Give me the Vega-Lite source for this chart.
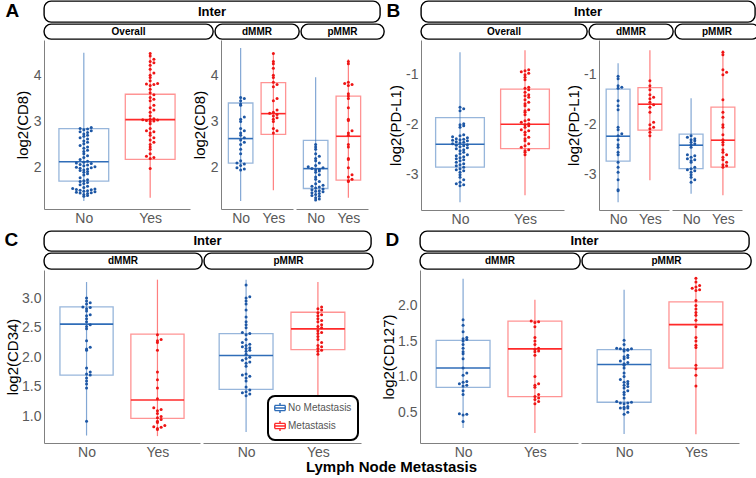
{
"$schema":"https://vega.github.io/schema/vega-lite/v6.json",
"padding":{"left":3,"top":0,"right":0,"bottom":0},
"background":"white",
"config":{
 "font":"Liberation Sans",
 "view":{"stroke":null},
 "axis":{"grid":false,"ticks":false,"domainColor":"#808080","domainWidth":1,"labelColor":"#595959","labelFontSize":14,"labelPadding":3,"titleFontSize":15,"titleFontWeight":"normal","titleColor":"black","titlePadding":3},
 "axisX":{"labelAngle":0,"labelPadding":2},
 "legend":{"strokeColor":"black","strokeWidth":2,"cornerRadius":7,"padding":6,"fillColor":"white","labelFontSize":10,"labelColor":"#555555","symbolSize":110,"symbolStrokeWidth":1.4,"rowPadding":2,"labelOffset":2},
 "title":{"color":"black"}
},
"title":{"text":"Lymph Node Metastasis","orient":"bottom","anchor":"middle","frame":"bounds","fontSize":15,"fontWeight":"bold","offset":1,"dx":10,"baseline":"top"},
"data":{"values":[
{"s":"Aov","g":"No","lo":1.28,"q1":1.71,"md":2.13,"q3":2.845,"hi":4.49},
{"s":"Aov","g":"Yes","lo":1.35,"q1":2.18,"md":3.04,"q3":3.59,"hi":4.5},
{"s":"Ad","g":"No","lo":1.28,"q1":2.1,"md":2.63,"q3":3.4,"hi":4.59},
{"s":"Ad","g":"Yes","lo":1.51,"q1":2.72,"md":3.17,"q3":3.84,"hi":4.49},
{"s":"Ap","g":"No","lo":1.28,"q1":1.55,"md":1.98,"q3":2.59,"hi":3.96},
{"s":"Ap","g":"Yes","lo":1.35,"q1":1.73,"md":2.68,"q3":3.55,"hi":4.35},
{"s":"Bov","g":"No","lo":-3.55,"q1":-2.85,"md":-2.39,"q3":-1.86,"hi":-0.55},
{"s":"Bov","g":"Yes","lo":-3.41,"q1":-2.48,"md":-1.99,"q3":-1.29,"hi":-0.51},
{"s":"Bd","g":"No","lo":-3.55,"q1":-2.73,"md":-2.23,"q3":-1.29,"hi":-0.77},
{"s":"Bd","g":"Yes","lo":-3.11,"q1":-2.11,"md":-1.59,"q3":-1.26,"hi":-0.51},
{"s":"Bp","g":"No","lo":-3.38,"q1":-2.88,"md":-2.41,"q3":-2.19,"hi":-1.47},
{"s":"Bp","g":"Yes","lo":-3.41,"q1":-2.85,"md":-2.31,"q3":-1.65,"hi":-0.51},
{"s":"Cd","g":"No","lo":0.68,"q1":1.7,"md":2.56,"q3":2.85,"hi":3.27},
{"s":"Cd","g":"Yes","lo":0.67,"q1":0.97,"md":1.28,"q3":2.39,"hi":3.31},
{"s":"Cp","g":"No","lo":0.74,"q1":1.46,"md":2.03,"q3":2.4,"hi":3.31},
{"s":"Cp","g":"Yes","lo":1.31,"q1":2.13,"md":2.48,"q3":2.76,"hi":3.27},
{"s":"Dd","g":"No","lo":0.28,"q1":0.85,"md":1.12,"q3":1.51,"hi":2.375},
{"s":"Dd","g":"Yes","lo":0.21,"q1":0.72,"md":1.39,"q3":1.78,"hi":2.08},
{"s":"Dp","g":"No","lo":0.195,"q1":0.64,"md":1.17,"q3":1.38,"hi":2.22},
{"s":"Dp","g":"Yes","lo":0.19,"q1":1.12,"md":1.73,"q3":2.05,"hi":2.385},
{"s":"Aov","g":"No","v":2.87},{"s":"Aov","g":"No","v":2.85},{"s":"Aov","g":"No","v":2.84},{"s":"Aov","g":"No","v":2.82},{"s":"Aov","g":"No","v":2.8},{"s":"Aov","g":"No","v":2.78},{"s":"Aov","g":"No","v":2.76},{"s":"Aov","g":"No","v":2.73},{"s":"Aov","g":"No","v":2.7},{"s":"Aov","g":"No","v":2.68},{"s":"Aov","g":"No","v":2.65},{"s":"Aov","g":"No","v":2.62},{"s":"Aov","g":"No","v":2.58},{"s":"Aov","g":"No","v":2.55},{"s":"Aov","g":"No","v":2.52},{"s":"Aov","g":"No","v":2.48},{"s":"Aov","g":"No","v":2.45},{"s":"Aov","g":"No","v":2.42},{"s":"Aov","g":"No","v":2.38},{"s":"Aov","g":"No","v":2.35},{"s":"Aov","g":"No","v":2.3},{"s":"Aov","g":"No","v":2.26},{"s":"Aov","g":"No","v":2.22},{"s":"Aov","g":"No","v":2.18},{"s":"Aov","g":"No","v":2.14},{"s":"Aov","g":"No","v":2.12},{"s":"Aov","g":"No","v":2.1},{"s":"Aov","g":"No","v":2.09},{"s":"Aov","g":"No","v":2.07},{"s":"Aov","g":"No","v":2.06},{"s":"Aov","g":"No","v":2.04},{"s":"Aov","g":"No","v":2.02},{"s":"Aov","g":"No","v":2.01},{"s":"Aov","g":"No","v":2.0},{"s":"Aov","g":"No","v":1.99},{"s":"Aov","g":"No","v":1.97},{"s":"Aov","g":"No","v":1.95},{"s":"Aov","g":"No","v":1.94},{"s":"Aov","g":"No","v":1.92},{"s":"Aov","g":"No","v":1.9},{"s":"Aov","g":"No","v":1.87},{"s":"Aov","g":"No","v":1.84},{"s":"Aov","g":"No","v":1.78},{"s":"Aov","g":"No","v":1.74},{"s":"Aov","g":"No","v":1.72},{"s":"Aov","g":"No","v":1.7},{"s":"Aov","g":"No","v":1.68},{"s":"Aov","g":"No","v":1.66},{"s":"Aov","g":"No","v":1.63},{"s":"Aov","g":"No","v":1.6},{"s":"Aov","g":"No","v":1.57},{"s":"Aov","g":"No","v":1.55},{"s":"Aov","g":"No","v":1.54},{"s":"Aov","g":"No","v":1.53},{"s":"Aov","g":"No","v":1.52},{"s":"Aov","g":"No","v":1.51},{"s":"Aov","g":"No","v":1.5},{"s":"Aov","g":"No","v":1.49},{"s":"Aov","g":"No","v":1.48},{"s":"Aov","g":"No","v":1.47},{"s":"Aov","g":"No","v":1.46},{"s":"Aov","g":"No","v":1.45},{"s":"Aov","g":"No","v":1.44},{"s":"Aov","g":"No","v":1.42},{"s":"Aov","g":"No","v":1.4},{"s":"Aov","g":"No","v":1.38},
{"s":"Aov","g":"Yes","v":4.47},{"s":"Aov","g":"Yes","v":4.42},{"s":"Aov","g":"Yes","v":4.35},{"s":"Aov","g":"Yes","v":4.3},{"s":"Aov","g":"Yes","v":4.27},{"s":"Aov","g":"Yes","v":4.22},{"s":"Aov","g":"Yes","v":4.13},{"s":"Aov","g":"Yes","v":4.05},{"s":"Aov","g":"Yes","v":4.0},{"s":"Aov","g":"Yes","v":3.95},{"s":"Aov","g":"Yes","v":3.88},{"s":"Aov","g":"Yes","v":3.82},{"s":"Aov","g":"Yes","v":3.81},{"s":"Aov","g":"Yes","v":3.8},{"s":"Aov","g":"Yes","v":3.78},{"s":"Aov","g":"Yes","v":3.7},{"s":"Aov","g":"Yes","v":3.62},{"s":"Aov","g":"Yes","v":3.58},{"s":"Aov","g":"Yes","v":3.52},{"s":"Aov","g":"Yes","v":3.48},{"s":"Aov","g":"Yes","v":3.45},{"s":"Aov","g":"Yes","v":3.35},{"s":"Aov","g":"Yes","v":3.3},{"s":"Aov","g":"Yes","v":3.25},{"s":"Aov","g":"Yes","v":3.2},{"s":"Aov","g":"Yes","v":3.12},{"s":"Aov","g":"Yes","v":3.06},{"s":"Aov","g":"Yes","v":3.05},{"s":"Aov","g":"Yes","v":3.04},{"s":"Aov","g":"Yes","v":3.03},{"s":"Aov","g":"Yes","v":3.02},{"s":"Aov","g":"Yes","v":3.01},{"s":"Aov","g":"Yes","v":3.0},{"s":"Aov","g":"Yes","v":2.95},{"s":"Aov","g":"Yes","v":2.85},{"s":"Aov","g":"Yes","v":2.8},{"s":"Aov","g":"Yes","v":2.78},{"s":"Aov","g":"Yes","v":2.75},{"s":"Aov","g":"Yes","v":2.7},{"s":"Aov","g":"Yes","v":2.65},{"s":"Aov","g":"Yes","v":2.6},{"s":"Aov","g":"Yes","v":2.55},{"s":"Aov","g":"Yes","v":2.5},{"s":"Aov","g":"Yes","v":2.45},{"s":"Aov","g":"Yes","v":2.4},{"s":"Aov","g":"Yes","v":2.3},{"s":"Aov","g":"Yes","v":2.25},{"s":"Aov","g":"Yes","v":2.22},{"s":"Aov","g":"Yes","v":2.2},{"s":"Aov","g":"Yes","v":1.98},
{"s":"Ad","g":"No","v":3.52},{"s":"Ad","g":"No","v":3.5},{"s":"Ad","g":"No","v":3.45},{"s":"Ad","g":"No","v":3.38},{"s":"Ad","g":"No","v":3.35},{"s":"Ad","g":"No","v":3.1},{"s":"Ad","g":"No","v":3.05},{"s":"Ad","g":"No","v":3.0},{"s":"Ad","g":"No","v":2.85},{"s":"Ad","g":"No","v":2.8},{"s":"Ad","g":"No","v":2.75},{"s":"Ad","g":"No","v":2.7},{"s":"Ad","g":"No","v":2.65},{"s":"Ad","g":"No","v":2.6},{"s":"Ad","g":"No","v":2.55},{"s":"Ad","g":"No","v":2.5},{"s":"Ad","g":"No","v":2.4},{"s":"Ad","g":"No","v":2.3},{"s":"Ad","g":"No","v":2.15},{"s":"Ad","g":"No","v":2.1},{"s":"Ad","g":"No","v":2.08},{"s":"Ad","g":"No","v":2.05},{"s":"Ad","g":"No","v":2.0},{"s":"Ad","g":"No","v":1.97},{"s":"Ad","g":"No","v":1.95},
{"s":"Ad","g":"Yes","v":4.47},{"s":"Ad","g":"Yes","v":4.3},{"s":"Ad","g":"Yes","v":4.25},{"s":"Ad","g":"Yes","v":4.15},{"s":"Ad","g":"Yes","v":4.0},{"s":"Ad","g":"Yes","v":3.95},{"s":"Ad","g":"Yes","v":3.85},{"s":"Ad","g":"Yes","v":3.8},{"s":"Ad","g":"Yes","v":3.75},{"s":"Ad","g":"Yes","v":3.5},{"s":"Ad","g":"Yes","v":3.45},{"s":"Ad","g":"Yes","v":3.25},{"s":"Ad","g":"Yes","v":3.2},{"s":"Ad","g":"Yes","v":3.18},{"s":"Ad","g":"Yes","v":3.15},{"s":"Ad","g":"Yes","v":3.12},{"s":"Ad","g":"Yes","v":3.08},{"s":"Ad","g":"Yes","v":3.05},{"s":"Ad","g":"Yes","v":3.0},{"s":"Ad","g":"Yes","v":2.85},{"s":"Ad","g":"Yes","v":2.8},{"s":"Ad","g":"Yes","v":2.75},
{"s":"Ap","g":"No","v":2.5},{"s":"Ap","g":"No","v":2.45},{"s":"Ap","g":"No","v":2.4},{"s":"Ap","g":"No","v":2.3},{"s":"Ap","g":"No","v":2.25},{"s":"Ap","g":"No","v":2.2},{"s":"Ap","g":"No","v":2.15},{"s":"Ap","g":"No","v":2.1},{"s":"Ap","g":"No","v":2.05},{"s":"Ap","g":"No","v":2.02},{"s":"Ap","g":"No","v":2.0},{"s":"Ap","g":"No","v":1.98},{"s":"Ap","g":"No","v":1.96},{"s":"Ap","g":"No","v":1.95},{"s":"Ap","g":"No","v":1.93},{"s":"Ap","g":"No","v":1.9},{"s":"Ap","g":"No","v":1.85},{"s":"Ap","g":"No","v":1.8},{"s":"Ap","g":"No","v":1.75},{"s":"Ap","g":"No","v":1.7},{"s":"Ap","g":"No","v":1.65},{"s":"Ap","g":"No","v":1.62},{"s":"Ap","g":"No","v":1.6},{"s":"Ap","g":"No","v":1.58},{"s":"Ap","g":"No","v":1.56},{"s":"Ap","g":"No","v":1.54},{"s":"Ap","g":"No","v":1.52},{"s":"Ap","g":"No","v":1.5},{"s":"Ap","g":"No","v":1.49},{"s":"Ap","g":"No","v":1.48},{"s":"Ap","g":"No","v":1.46},{"s":"Ap","g":"No","v":1.44},{"s":"Ap","g":"No","v":1.42},{"s":"Ap","g":"No","v":1.4},{"s":"Ap","g":"No","v":1.38},{"s":"Ap","g":"No","v":1.35},{"s":"Ap","g":"No","v":1.32},{"s":"Ap","g":"No","v":1.3},
{"s":"Ap","g":"Yes","v":4.3},{"s":"Ap","g":"Yes","v":4.25},{"s":"Ap","g":"Yes","v":3.85},{"s":"Ap","g":"Yes","v":3.82},{"s":"Ap","g":"Yes","v":3.8},{"s":"Ap","g":"Yes","v":3.78},{"s":"Ap","g":"Yes","v":3.6},{"s":"Ap","g":"Yes","v":3.55},{"s":"Ap","g":"Yes","v":3.5},{"s":"Ap","g":"Yes","v":3.3},{"s":"Ap","g":"Yes","v":3.05},{"s":"Ap","g":"Yes","v":3.02},{"s":"Ap","g":"Yes","v":2.8},{"s":"Ap","g":"Yes","v":2.75},{"s":"Ap","g":"Yes","v":2.7},{"s":"Ap","g":"Yes","v":2.5},{"s":"Ap","g":"Yes","v":2.45},{"s":"Ap","g":"Yes","v":2.2},{"s":"Ap","g":"Yes","v":2.18},{"s":"Ap","g":"Yes","v":2.0},{"s":"Ap","g":"Yes","v":1.85},{"s":"Ap","g":"Yes","v":1.8},{"s":"Ap","g":"Yes","v":1.75},{"s":"Ap","g":"Yes","v":1.72},{"s":"Ap","g":"Yes","v":1.7},
{"s":"Bov","g":"No","v":-1.65},{"s":"Bov","g":"No","v":-1.68},{"s":"Bov","g":"No","v":-1.72},{"s":"Bov","g":"No","v":-1.98},{"s":"Bov","g":"No","v":-2.0},{"s":"Bov","g":"No","v":-2.02},{"s":"Bov","g":"No","v":-2.05},{"s":"Bov","g":"No","v":-2.2},{"s":"Bov","g":"No","v":-2.22},{"s":"Bov","g":"No","v":-2.24},{"s":"Bov","g":"No","v":-2.26},{"s":"Bov","g":"No","v":-2.28},{"s":"Bov","g":"No","v":-2.29},{"s":"Bov","g":"No","v":-2.3},{"s":"Bov","g":"No","v":-2.31},{"s":"Bov","g":"No","v":-2.32},{"s":"Bov","g":"No","v":-2.34},{"s":"Bov","g":"No","v":-2.35},{"s":"Bov","g":"No","v":-2.36},{"s":"Bov","g":"No","v":-2.38},{"s":"Bov","g":"No","v":-2.4},{"s":"Bov","g":"No","v":-2.41},{"s":"Bov","g":"No","v":-2.42},{"s":"Bov","g":"No","v":-2.44},{"s":"Bov","g":"No","v":-2.46},{"s":"Bov","g":"No","v":-2.48},{"s":"Bov","g":"No","v":-2.5},{"s":"Bov","g":"No","v":-2.52},{"s":"Bov","g":"No","v":-2.55},{"s":"Bov","g":"No","v":-2.58},{"s":"Bov","g":"No","v":-2.6},{"s":"Bov","g":"No","v":-2.62},{"s":"Bov","g":"No","v":-2.64},{"s":"Bov","g":"No","v":-2.66},{"s":"Bov","g":"No","v":-2.68},{"s":"Bov","g":"No","v":-2.7},{"s":"Bov","g":"No","v":-2.72},{"s":"Bov","g":"No","v":-2.75},{"s":"Bov","g":"No","v":-2.78},{"s":"Bov","g":"No","v":-2.8},{"s":"Bov","g":"No","v":-2.82},{"s":"Bov","g":"No","v":-2.85},{"s":"Bov","g":"No","v":-2.88},{"s":"Bov","g":"No","v":-2.9},{"s":"Bov","g":"No","v":-2.92},{"s":"Bov","g":"No","v":-2.95},{"s":"Bov","g":"No","v":-3.0},{"s":"Bov","g":"No","v":-3.05},{"s":"Bov","g":"No","v":-3.1},{"s":"Bov","g":"No","v":-3.15},{"s":"Bov","g":"No","v":-3.18},{"s":"Bov","g":"No","v":-3.2},{"s":"Bov","g":"No","v":-3.22},
{"s":"Bov","g":"Yes","v":-0.9},{"s":"Bov","g":"Yes","v":-0.92},{"s":"Bov","g":"Yes","v":-0.94},{"s":"Bov","g":"Yes","v":-0.97},{"s":"Bov","g":"Yes","v":-1.0},{"s":"Bov","g":"Yes","v":-1.05},{"s":"Bov","g":"Yes","v":-1.1},{"s":"Bov","g":"Yes","v":-1.25},{"s":"Bov","g":"Yes","v":-1.27},{"s":"Bov","g":"Yes","v":-1.3},{"s":"Bov","g":"Yes","v":-1.35},{"s":"Bov","g":"Yes","v":-1.4},{"s":"Bov","g":"Yes","v":-1.42},{"s":"Bov","g":"Yes","v":-1.45},{"s":"Bov","g":"Yes","v":-1.5},{"s":"Bov","g":"Yes","v":-1.55},{"s":"Bov","g":"Yes","v":-1.58},{"s":"Bov","g":"Yes","v":-1.62},{"s":"Bov","g":"Yes","v":-1.7},{"s":"Bov","g":"Yes","v":-1.72},{"s":"Bov","g":"Yes","v":-1.75},{"s":"Bov","g":"Yes","v":-1.8},{"s":"Bov","g":"Yes","v":-1.9},{"s":"Bov","g":"Yes","v":-1.92},{"s":"Bov","g":"Yes","v":-1.95},{"s":"Bov","g":"Yes","v":-1.98},{"s":"Bov","g":"Yes","v":-2.0},{"s":"Bov","g":"Yes","v":-2.02},{"s":"Bov","g":"Yes","v":-2.05},{"s":"Bov","g":"Yes","v":-2.1},{"s":"Bov","g":"Yes","v":-2.12},{"s":"Bov","g":"Yes","v":-2.15},{"s":"Bov","g":"Yes","v":-2.2},{"s":"Bov","g":"Yes","v":-2.25},{"s":"Bov","g":"Yes","v":-2.28},{"s":"Bov","g":"Yes","v":-2.32},{"s":"Bov","g":"Yes","v":-2.38},{"s":"Bov","g":"Yes","v":-2.42},{"s":"Bov","g":"Yes","v":-2.45},{"s":"Bov","g":"Yes","v":-2.5},{"s":"Bov","g":"Yes","v":-2.52},{"s":"Bov","g":"Yes","v":-2.55},{"s":"Bov","g":"Yes","v":-2.6},
{"s":"Bd","g":"No","v":-1.03},{"s":"Bd","g":"No","v":-1.08},{"s":"Bd","g":"No","v":-1.22},{"s":"Bd","g":"No","v":-1.25},{"s":"Bd","g":"No","v":-1.27},{"s":"Bd","g":"No","v":-1.52},{"s":"Bd","g":"No","v":-1.62},{"s":"Bd","g":"No","v":-1.7},{"s":"Bd","g":"No","v":-2.05},{"s":"Bd","g":"No","v":-2.1},{"s":"Bd","g":"No","v":-2.18},{"s":"Bd","g":"No","v":-2.22},{"s":"Bd","g":"No","v":-2.3},{"s":"Bd","g":"No","v":-2.4},{"s":"Bd","g":"No","v":-2.45},{"s":"Bd","g":"No","v":-2.55},{"s":"Bd","g":"No","v":-2.6},{"s":"Bd","g":"No","v":-2.75},{"s":"Bd","g":"No","v":-2.85},{"s":"Bd","g":"No","v":-2.95},{"s":"Bd","g":"No","v":-3.1},{"s":"Bd","g":"No","v":-3.3},{"s":"Bd","g":"No","v":-3.32},
{"s":"Bd","g":"Yes","v":-1.12},{"s":"Bd","g":"Yes","v":-1.22},{"s":"Bd","g":"Yes","v":-1.3},{"s":"Bd","g":"Yes","v":-1.4},{"s":"Bd","g":"Yes","v":-1.45},{"s":"Bd","g":"Yes","v":-1.48},{"s":"Bd","g":"Yes","v":-1.55},{"s":"Bd","g":"Yes","v":-1.6},{"s":"Bd","g":"Yes","v":-1.65},{"s":"Bd","g":"Yes","v":-1.75},{"s":"Bd","g":"Yes","v":-1.95},{"s":"Bd","g":"Yes","v":-2.0},{"s":"Bd","g":"Yes","v":-2.05},{"s":"Bd","g":"Yes","v":-2.08},{"s":"Bd","g":"Yes","v":-2.15},{"s":"Bd","g":"Yes","v":-2.22},
{"s":"Bp","g":"No","v":-2.22},{"s":"Bp","g":"No","v":-2.25},{"s":"Bp","g":"No","v":-2.28},{"s":"Bp","g":"No","v":-2.3},{"s":"Bp","g":"No","v":-2.32},{"s":"Bp","g":"No","v":-2.35},{"s":"Bp","g":"No","v":-2.38},{"s":"Bp","g":"No","v":-2.4},{"s":"Bp","g":"No","v":-2.45},{"s":"Bp","g":"No","v":-2.6},{"s":"Bp","g":"No","v":-2.62},{"s":"Bp","g":"No","v":-2.65},{"s":"Bp","g":"No","v":-2.68},{"s":"Bp","g":"No","v":-2.7},{"s":"Bp","g":"No","v":-2.72},{"s":"Bp","g":"No","v":-2.75},{"s":"Bp","g":"No","v":-2.85},{"s":"Bp","g":"No","v":-2.88},{"s":"Bp","g":"No","v":-2.9},{"s":"Bp","g":"No","v":-2.92},{"s":"Bp","g":"No","v":-2.95},{"s":"Bp","g":"No","v":-3.0},{"s":"Bp","g":"No","v":-3.05},{"s":"Bp","g":"No","v":-3.1},{"s":"Bp","g":"No","v":-3.15},
{"s":"Bp","g":"Yes","v":-0.55},{"s":"Bp","g":"Yes","v":-0.6},{"s":"Bp","g":"Yes","v":-0.9},{"s":"Bp","g":"Yes","v":-0.95},{"s":"Bp","g":"Yes","v":-1.0},{"s":"Bp","g":"Yes","v":-1.5},{"s":"Bp","g":"Yes","v":-1.75},{"s":"Bp","g":"Yes","v":-1.85},{"s":"Bp","g":"Yes","v":-2.0},{"s":"Bp","g":"Yes","v":-2.05},{"s":"Bp","g":"Yes","v":-2.2},{"s":"Bp","g":"Yes","v":-2.3},{"s":"Bp","g":"Yes","v":-2.35},{"s":"Bp","g":"Yes","v":-2.4},{"s":"Bp","g":"Yes","v":-2.5},{"s":"Bp","g":"Yes","v":-2.55},{"s":"Bp","g":"Yes","v":-2.6},{"s":"Bp","g":"Yes","v":-2.65},{"s":"Bp","g":"Yes","v":-2.7},{"s":"Bp","g":"Yes","v":-2.75},{"s":"Bp","g":"Yes","v":-2.8},{"s":"Bp","g":"Yes","v":-2.82},{"s":"Bp","g":"Yes","v":-2.85},
{"s":"Cd","g":"No","v":3.0},{"s":"Cd","g":"No","v":2.95},{"s":"Cd","g":"No","v":2.92},{"s":"Cd","g":"No","v":2.9},{"s":"Cd","g":"No","v":2.85},{"s":"Cd","g":"No","v":2.84},{"s":"Cd","g":"No","v":2.82},{"s":"Cd","g":"No","v":2.78},{"s":"Cd","g":"No","v":2.72},{"s":"Cd","g":"No","v":2.7},{"s":"Cd","g":"No","v":2.65},{"s":"Cd","g":"No","v":2.6},{"s":"Cd","g":"No","v":2.55},{"s":"Cd","g":"No","v":2.52},{"s":"Cd","g":"No","v":2.48},{"s":"Cd","g":"No","v":2.28},{"s":"Cd","g":"No","v":2.17},{"s":"Cd","g":"No","v":2.14},{"s":"Cd","g":"No","v":2.12},{"s":"Cd","g":"No","v":1.82},{"s":"Cd","g":"No","v":1.75},{"s":"Cd","g":"No","v":1.72},{"s":"Cd","g":"No","v":1.7},{"s":"Cd","g":"No","v":1.65},{"s":"Cd","g":"No","v":1.6},{"s":"Cd","g":"No","v":1.55},{"s":"Cd","g":"No","v":1.48},{"s":"Cd","g":"No","v":0.92},
{"s":"Cd","g":"Yes","v":2.38},{"s":"Cd","g":"Yes","v":2.3},{"s":"Cd","g":"Yes","v":2.28},{"s":"Cd","g":"Yes","v":2.25},{"s":"Cd","g":"Yes","v":2.12},{"s":"Cd","g":"Yes","v":1.75},{"s":"Cd","g":"Yes","v":1.62},{"s":"Cd","g":"Yes","v":1.48},{"s":"Cd","g":"Yes","v":1.3},{"s":"Cd","g":"Yes","v":1.15},{"s":"Cd","g":"Yes","v":1.12},{"s":"Cd","g":"Yes","v":1.1},{"s":"Cd","g":"Yes","v":1.05},{"s":"Cd","g":"Yes","v":1.0},{"s":"Cd","g":"Yes","v":0.98},{"s":"Cd","g":"Yes","v":0.95},{"s":"Cd","g":"Yes","v":0.92},{"s":"Cd","g":"Yes","v":0.9},{"s":"Cd","g":"Yes","v":0.85},{"s":"Cd","g":"Yes","v":0.83},{"s":"Cd","g":"Yes","v":0.82},{"s":"Cd","g":"Yes","v":0.8},{"s":"Cd","g":"Yes","v":0.78},
{"s":"Cp","g":"No","v":3.22},{"s":"Cp","g":"No","v":3.02},{"s":"Cp","g":"No","v":3.0},{"s":"Cp","g":"No","v":2.95},{"s":"Cp","g":"No","v":2.9},{"s":"Cp","g":"No","v":2.8},{"s":"Cp","g":"No","v":2.68},{"s":"Cp","g":"No","v":2.6},{"s":"Cp","g":"No","v":2.55},{"s":"Cp","g":"No","v":2.5},{"s":"Cp","g":"No","v":2.42},{"s":"Cp","g":"No","v":2.4},{"s":"Cp","g":"No","v":2.38},{"s":"Cp","g":"No","v":2.3},{"s":"Cp","g":"No","v":2.25},{"s":"Cp","g":"No","v":2.22},{"s":"Cp","g":"No","v":2.2},{"s":"Cp","g":"No","v":2.18},{"s":"Cp","g":"No","v":2.16},{"s":"Cp","g":"No","v":2.15},{"s":"Cp","g":"No","v":2.12},{"s":"Cp","g":"No","v":2.1},{"s":"Cp","g":"No","v":2.05},{"s":"Cp","g":"No","v":2.0},{"s":"Cp","g":"No","v":1.98},{"s":"Cp","g":"No","v":1.95},{"s":"Cp","g":"No","v":1.92},{"s":"Cp","g":"No","v":1.9},{"s":"Cp","g":"No","v":1.85},{"s":"Cp","g":"No","v":1.72},{"s":"Cp","g":"No","v":1.7},{"s":"Cp","g":"No","v":1.68},{"s":"Cp","g":"No","v":1.65},{"s":"Cp","g":"No","v":1.6},{"s":"Cp","g":"No","v":1.5},{"s":"Cp","g":"No","v":1.45},{"s":"Cp","g":"No","v":1.42},{"s":"Cp","g":"No","v":1.4},{"s":"Cp","g":"No","v":1.38},{"s":"Cp","g":"No","v":1.35},
{"s":"Cp","g":"Yes","v":2.85},{"s":"Cp","g":"Yes","v":2.82},{"s":"Cp","g":"Yes","v":2.8},{"s":"Cp","g":"Yes","v":2.75},{"s":"Cp","g":"Yes","v":2.72},{"s":"Cp","g":"Yes","v":2.7},{"s":"Cp","g":"Yes","v":2.65},{"s":"Cp","g":"Yes","v":2.62},{"s":"Cp","g":"Yes","v":2.6},{"s":"Cp","g":"Yes","v":2.55},{"s":"Cp","g":"Yes","v":2.52},{"s":"Cp","g":"Yes","v":2.5},{"s":"Cp","g":"Yes","v":2.45},{"s":"Cp","g":"Yes","v":2.42},{"s":"Cp","g":"Yes","v":2.4},{"s":"Cp","g":"Yes","v":2.35},{"s":"Cp","g":"Yes","v":2.3},{"s":"Cp","g":"Yes","v":2.25},{"s":"Cp","g":"Yes","v":2.2},{"s":"Cp","g":"Yes","v":2.18},{"s":"Cp","g":"Yes","v":2.15},{"s":"Cp","g":"Yes","v":2.12},{"s":"Cp","g":"Yes","v":2.1},{"s":"Cp","g":"Yes","v":2.05},
{"s":"Dd","g":"No","v":1.8},{"s":"Dd","g":"No","v":1.72},{"s":"Dd","g":"No","v":1.63},{"s":"Dd","g":"No","v":1.55},{"s":"Dd","g":"No","v":1.53},{"s":"Dd","g":"No","v":1.52},{"s":"Dd","g":"No","v":1.5},{"s":"Dd","g":"No","v":1.45},{"s":"Dd","g":"No","v":1.4},{"s":"Dd","g":"No","v":1.35},{"s":"Dd","g":"No","v":1.32},{"s":"Dd","g":"No","v":1.25},{"s":"Dd","g":"No","v":1.12},{"s":"Dd","g":"No","v":1.05},{"s":"Dd","g":"No","v":1.02},{"s":"Dd","g":"No","v":0.93},{"s":"Dd","g":"No","v":0.92},{"s":"Dd","g":"No","v":0.9},{"s":"Dd","g":"No","v":0.88},{"s":"Dd","g":"No","v":0.87},{"s":"Dd","g":"No","v":0.8},{"s":"Dd","g":"No","v":0.75},{"s":"Dd","g":"No","v":0.48},{"s":"Dd","g":"No","v":0.47},{"s":"Dd","g":"No","v":0.46},{"s":"Dd","g":"No","v":0.37},
{"s":"Dd","g":"Yes","v":1.78},{"s":"Dd","g":"Yes","v":1.77},{"s":"Dd","g":"Yes","v":1.76},{"s":"Dd","g":"Yes","v":1.7},{"s":"Dd","g":"Yes","v":1.55},{"s":"Dd","g":"Yes","v":1.5},{"s":"Dd","g":"Yes","v":1.45},{"s":"Dd","g":"Yes","v":1.4},{"s":"Dd","g":"Yes","v":1.38},{"s":"Dd","g":"Yes","v":1.36},{"s":"Dd","g":"Yes","v":1.35},{"s":"Dd","g":"Yes","v":1.3},{"s":"Dd","g":"Yes","v":1.0},{"s":"Dd","g":"Yes","v":0.9},{"s":"Dd","g":"Yes","v":0.88},{"s":"Dd","g":"Yes","v":0.85},{"s":"Dd","g":"Yes","v":0.75},{"s":"Dd","g":"Yes","v":0.72},{"s":"Dd","g":"Yes","v":0.7},{"s":"Dd","g":"Yes","v":0.68},{"s":"Dd","g":"Yes","v":0.65},{"s":"Dd","g":"Yes","v":0.62},
{"s":"Dp","g":"No","v":1.51},{"s":"Dp","g":"No","v":1.45},{"s":"Dp","g":"No","v":1.4},{"s":"Dp","g":"No","v":1.39},{"s":"Dp","g":"No","v":1.39},{"s":"Dp","g":"No","v":1.38},{"s":"Dp","g":"No","v":1.38},{"s":"Dp","g":"No","v":1.37},{"s":"Dp","g":"No","v":1.36},{"s":"Dp","g":"No","v":1.3},{"s":"Dp","g":"No","v":1.28},{"s":"Dp","g":"No","v":1.27},{"s":"Dp","g":"No","v":1.25},{"s":"Dp","g":"No","v":1.22},{"s":"Dp","g":"No","v":1.2},{"s":"Dp","g":"No","v":1.18},{"s":"Dp","g":"No","v":1.16},{"s":"Dp","g":"No","v":1.12},{"s":"Dp","g":"No","v":1.05},{"s":"Dp","g":"No","v":1.0},{"s":"Dp","g":"No","v":0.96},{"s":"Dp","g":"No","v":0.93},{"s":"Dp","g":"No","v":0.92},{"s":"Dp","g":"No","v":0.9},{"s":"Dp","g":"No","v":0.88},{"s":"Dp","g":"No","v":0.86},{"s":"Dp","g":"No","v":0.84},{"s":"Dp","g":"No","v":0.8},{"s":"Dp","g":"No","v":0.78},{"s":"Dp","g":"No","v":0.75},{"s":"Dp","g":"No","v":0.7},{"s":"Dp","g":"No","v":0.65},{"s":"Dp","g":"No","v":0.64},{"s":"Dp","g":"No","v":0.63},{"s":"Dp","g":"No","v":0.63},{"s":"Dp","g":"No","v":0.62},{"s":"Dp","g":"No","v":0.58},{"s":"Dp","g":"No","v":0.57},{"s":"Dp","g":"No","v":0.56},{"s":"Dp","g":"No","v":0.56},{"s":"Dp","g":"No","v":0.55},{"s":"Dp","g":"No","v":0.5},{"s":"Dp","g":"No","v":0.47},
{"s":"Dp","g":"Yes","v":2.38},{"s":"Dp","g":"Yes","v":2.33},{"s":"Dp","g":"Yes","v":2.28},{"s":"Dp","g":"Yes","v":2.26},{"s":"Dp","g":"Yes","v":2.24},{"s":"Dp","g":"Yes","v":2.22},{"s":"Dp","g":"Yes","v":2.21},{"s":"Dp","g":"Yes","v":2.07},{"s":"Dp","g":"Yes","v":2.0},{"s":"Dp","g":"Yes","v":1.95},{"s":"Dp","g":"Yes","v":1.9},{"s":"Dp","g":"Yes","v":1.86},{"s":"Dp","g":"Yes","v":1.79},{"s":"Dp","g":"Yes","v":1.7},{"s":"Dp","g":"Yes","v":1.55},{"s":"Dp","g":"Yes","v":1.5},{"s":"Dp","g":"Yes","v":1.44},{"s":"Dp","g":"Yes","v":1.41},{"s":"Dp","g":"Yes","v":1.16},{"s":"Dp","g":"Yes","v":1.11},{"s":"Dp","g":"Yes","v":1.02},{"s":"Dp","g":"Yes","v":0.87}
]},
"transform":[
 {"calculate":"substring(datum.s, 0, 1)","as":"p"},
 {"calculate":"datum.g == 'No' ? 1 : 2","as":"xp"},
 {"calculate":"datum.xp - 0.375","as":"xl"},
 {"calculate":"datum.xp + 0.375","as":"xr"},
 {"calculate":"floor(datum.v / (datum.p == 'A' ? 0.078 : datum.p == 'B' ? 0.072 : datum.p == 'C' ? 0.061 : 0.051))","as":"vb"},
 {"window":[{"op":"row_number","as":"r"}],"groupby":["s","g","vb"],"sort":[{"field":"v","order":"ascending"}]},
 {"calculate":"datum.r % 2 == 0 ? datum.r / 2 : (1 - datum.r) / 2","as":"o"}
],
"resolve":{"scale":{"stroke":"independent","color":"independent"}},
"spacing":3,
"vconcat":[
{"spacing":0,"hconcat":[
 {"spacing":0,
  "vconcat":[
   {"hconcat":[{"width":336,"height":21,"data":{"values":[{"t":"Inter"}]},"view":{"stroke":"black","strokeWidth":1.4,"cornerRadius":7,"fill":"white"},"mark":{"type":"text","fontSize":13,"fontWeight":"bold","color":"black"},"encoding":{"text":{"field":"t"},"y":{"datum":0.5,"type":"quantitative","scale":{"domain":[0,1]},"axis":{"title":"A","titleAngle":0,"titleX":-39,"titleY":15,"titleAlign":"left","titleBaseline":"alphabetic","titleFontSize":19,"titleFontWeight":"bold","titleColor":"black","labels":false,"ticks":false,"domain":false,"grid":false}}}}]},
   {"spacing":0,"hconcat":[
     {"width":169,"height":15,"data":{"values":[{"t":"Overall"}]},"view":{"stroke":"black","strokeWidth":1.4,"cornerRadius":7,"fill":"white"},"mark":{"type":"text","fontSize":10,"fontWeight":"bold","color":"black"},"encoding":{"text":{"field":"t"}}},
     {"width":84,"height":15,"data":{"values":[{"t":"dMMR"}]},"view":{"stroke":"black","strokeWidth":1.4,"cornerRadius":7,"fill":"white"},"mark":{"type":"text","fontSize":10,"fontWeight":"bold","color":"black"},"encoding":{"text":{"field":"t"}}},
     {"width":83,"height":15,"data":{"values":[{"t":"pMMR"}]},"view":{"stroke":"black","strokeWidth":1.4,"cornerRadius":7,"fill":"white"},"mark":{"type":"text","fontSize":10,"fontWeight":"bold","color":"black"},"encoding":{"text":{"field":"t"}}}
   ]},
   {"spacing":2,"hconcat":[
     {"width":146,"height":169,"transform":[{"filter":"datum.s == 'Aov'"}],"layer":[
       {"transform":[{"filter":"isValid(datum.q1)"}],"mark":{"type":"rule","strokeWidth":1.2,"strokeOpacity":0.6},"encoding":{"x":{"field":"xp","type":"quantitative","scale":{"domain":[0.4,2.6],"nice":false,"zero":false},"axis":{"values":[1,2],"labelExpr":"datum.value == 1 ? 'No' : 'Yes'"},"title":null},"y":{"field":"lo","type":"quantitative","scale":{"domain":[1.106,4.764],"nice":false,"zero":false},"axis":{"values":[2,3,4],"minExtent":11,"maxExtent":11},"title":"log2(CD8)"},"y2":{"field":"hi"},"stroke":{"field":"g","type":"nominal","scale":{"domain":["No","Yes"],"range":["#2f6db8","#ff2a2a"]},"legend":null}}},
       {"transform":[{"filter":"isValid(datum.q1)"}],"mark":{"type":"rect","filled":false,"strokeWidth":1.3,"strokeOpacity":0.5},"encoding":{"x":{"field":"xl","type":"quantitative","title":null},"x2":{"field":"xr"},"y":{"field":"q1","type":"quantitative","title":"log2(CD8)"},"y2":{"field":"q3"},"stroke":{"field":"g","type":"nominal","legend":null}}},
       {"transform":[{"filter":"isValid(datum.q1)"}],"mark":{"type":"rule","strokeWidth":1.6},"encoding":{"x":{"field":"xl","type":"quantitative","title":null},"x2":{"field":"xr"},"y":{"field":"md","type":"quantitative","title":"log2(CD8)"},"stroke":{"field":"g","type":"nominal","legend":null}}},
       {"transform":[{"filter":"isValid(datum.v)"},{"calculate":"datum.xp + datum.o * 0.056","as":"xj"}],"mark":{"type":"circle","size":9,"opacity":1},"encoding":{"x":{"field":"xj","type":"quantitative","title":null},"y":{"field":"v","type":"quantitative","title":"log2(CD8)"},"color":{"field":"g","type":"nominal","scale":{"domain":["No","Yes"],"range":["#1d57a5","#ee1515"]},"legend":null}}}
     ]},
     {"spacing":3,"hconcat":[
       {"width":72,"height":169,"transform":[{"filter":"datum.s == 'Ad'"}],"layer":[
         {"transform":[{"filter":"isValid(datum.q1)"}],"mark":{"type":"rule","strokeWidth":1.2,"strokeOpacity":0.6},"encoding":{"x":{"field":"xp","type":"quantitative","scale":{"domain":[0.4,2.6],"nice":false,"zero":false},"axis":{"values":[1,2],"labelExpr":"datum.value == 1 ? 'No' : 'Yes'"},"title":null},"y":{"field":"lo","type":"quantitative","scale":{"domain":[1.106,4.764],"nice":false,"zero":false},"axis":{"values":[2,3,4],"minExtent":11,"maxExtent":11},"title":"log2(CD8)"},"y2":{"field":"hi"},"stroke":{"field":"g","type":"nominal","scale":{"domain":["No","Yes"],"range":["#2f6db8","#ff2a2a"]},"legend":null}}},
         {"transform":[{"filter":"isValid(datum.q1)"}],"mark":{"type":"rect","filled":false,"strokeWidth":1.3,"strokeOpacity":0.5},"encoding":{"x":{"field":"xl","type":"quantitative","title":null},"x2":{"field":"xr"},"y":{"field":"q1","type":"quantitative","title":"log2(CD8)"},"y2":{"field":"q3"},"stroke":{"field":"g","type":"nominal","legend":null}}},
         {"transform":[{"filter":"isValid(datum.q1)"}],"mark":{"type":"rule","strokeWidth":1.6},"encoding":{"x":{"field":"xl","type":"quantitative","title":null},"x2":{"field":"xr"},"y":{"field":"md","type":"quantitative","title":"log2(CD8)"},"stroke":{"field":"g","type":"nominal","legend":null}}},
         {"transform":[{"filter":"isValid(datum.v)"},{"calculate":"datum.xp + datum.o * 0.113","as":"xj"}],"mark":{"type":"circle","size":9,"opacity":1},"encoding":{"x":{"field":"xj","type":"quantitative","title":null},"y":{"field":"v","type":"quantitative","title":"log2(CD8)"},"color":{"field":"g","type":"nominal","scale":{"domain":["No","Yes"],"range":["#1d57a5","#ee1515"]},"legend":null}}}
       ]},
       {"width":72,"height":169,"transform":[{"filter":"datum.s == 'Ap'"}],"layer":[
         {"transform":[{"filter":"isValid(datum.q1)"}],"mark":{"type":"rule","strokeWidth":1.2,"strokeOpacity":0.6},"encoding":{"x":{"field":"xp","type":"quantitative","scale":{"domain":[0.4,2.6],"nice":false,"zero":false},"axis":{"values":[1,2],"labelExpr":"datum.value == 1 ? 'No' : 'Yes'"},"title":null},"y":{"field":"lo","type":"quantitative","scale":{"domain":[1.106,4.764],"nice":false,"zero":false},"axis":null},"y2":{"field":"hi"},"stroke":{"field":"g","type":"nominal","scale":{"domain":["No","Yes"],"range":["#2f6db8","#ff2a2a"]},"legend":null}}},
         {"transform":[{"filter":"isValid(datum.q1)"}],"mark":{"type":"rect","filled":false,"strokeWidth":1.3,"strokeOpacity":0.5},"encoding":{"x":{"field":"xl","type":"quantitative","title":null},"x2":{"field":"xr"},"y":{"field":"q1","type":"quantitative","axis":null},"y2":{"field":"q3"},"stroke":{"field":"g","type":"nominal","legend":null}}},
         {"transform":[{"filter":"isValid(datum.q1)"}],"mark":{"type":"rule","strokeWidth":1.6},"encoding":{"x":{"field":"xl","type":"quantitative","title":null},"x2":{"field":"xr"},"y":{"field":"md","type":"quantitative","axis":null},"stroke":{"field":"g","type":"nominal","legend":null}}},
         {"transform":[{"filter":"isValid(datum.v)"},{"calculate":"datum.xp + datum.o * 0.113","as":"xj"}],"mark":{"type":"circle","size":9,"opacity":1},"encoding":{"x":{"field":"xj","type":"quantitative","title":null},"y":{"field":"v","type":"quantitative","axis":null},"color":{"field":"g","type":"nominal","scale":{"domain":["No","Yes"],"range":["#1d57a5","#ee1515"]},"legend":null}}}
       ]}
     ]}
   ]}
  ]},
 {"spacing":0,
  "vconcat":[
   {"hconcat":[{"width":334,"height":21,"data":{"values":[{"t":"Inter"}]},"view":{"stroke":"black","strokeWidth":1.4,"cornerRadius":7,"fill":"white"},"mark":{"type":"text","fontSize":13,"fontWeight":"bold","color":"black"},"encoding":{"text":{"field":"t"},"y":{"datum":0.5,"type":"quantitative","scale":{"domain":[0,1]},"axis":{"title":"B","titleAngle":0,"titleX":-35,"titleY":15,"titleAlign":"left","titleBaseline":"alphabetic","titleFontSize":19,"titleFontWeight":"bold","titleColor":"black","labels":false,"ticks":false,"domain":false,"grid":false}}}}]},
   {"spacing":0,"hconcat":[
     {"width":166,"height":15,"data":{"values":[{"t":"Overall"}]},"view":{"stroke":"black","strokeWidth":1.4,"cornerRadius":7,"fill":"white"},"mark":{"type":"text","fontSize":10,"fontWeight":"bold","color":"black"},"encoding":{"text":{"field":"t"}}},
     {"width":84,"height":15,"data":{"values":[{"t":"dMMR"}]},"view":{"stroke":"black","strokeWidth":1.4,"cornerRadius":7,"fill":"white"},"mark":{"type":"text","fontSize":10,"fontWeight":"bold","color":"black"},"encoding":{"text":{"field":"t"}}},
     {"width":84,"height":15,"data":{"values":[{"t":"pMMR"}]},"view":{"stroke":"black","strokeWidth":1.4,"cornerRadius":7,"fill":"white"},"mark":{"type":"text","fontSize":10,"fontWeight":"bold","color":"black"},"encoding":{"text":{"field":"t"}}}
   ]},
   {"spacing":2,"hconcat":[
     {"width":143,"height":170,"transform":[{"filter":"datum.s == 'Bov'"}],"layer":[
       {"transform":[{"filter":"isValid(datum.q1)"}],"mark":{"type":"rule","strokeWidth":1.2,"strokeOpacity":0.6},"encoding":{"x":{"field":"xp","type":"quantitative","scale":{"domain":[0.4,2.6],"nice":false,"zero":false},"axis":{"values":[1,2],"labelExpr":"datum.value == 1 ? 'No' : 'Yes'"},"title":null},"y":{"field":"lo","type":"quantitative","scale":{"domain":[-3.706,-0.306],"nice":false,"zero":false},"axis":{"values":[-3,-2,-1],"labelExpr":"'' + datum.value","minExtent":15,"maxExtent":15},"title":"log2(PD-L1)"},"y2":{"field":"hi"},"stroke":{"field":"g","type":"nominal","scale":{"domain":["No","Yes"],"range":["#2f6db8","#ff2a2a"]},"legend":null}}},
       {"transform":[{"filter":"isValid(datum.q1)"}],"mark":{"type":"rect","filled":false,"strokeWidth":1.3,"strokeOpacity":0.5},"encoding":{"x":{"field":"xl","type":"quantitative","title":null},"x2":{"field":"xr"},"y":{"field":"q1","type":"quantitative","title":"log2(PD-L1)"},"y2":{"field":"q3"},"stroke":{"field":"g","type":"nominal","legend":null}}},
       {"transform":[{"filter":"isValid(datum.q1)"}],"mark":{"type":"rule","strokeWidth":1.6},"encoding":{"x":{"field":"xl","type":"quantitative","title":null},"x2":{"field":"xr"},"y":{"field":"md","type":"quantitative","title":"log2(PD-L1)"},"stroke":{"field":"g","type":"nominal","legend":null}}},
       {"transform":[{"filter":"isValid(datum.v)"},{"calculate":"datum.xp + datum.o * 0.057","as":"xj"}],"mark":{"type":"circle","size":9,"opacity":1},"encoding":{"x":{"field":"xj","type":"quantitative","title":null},"y":{"field":"v","type":"quantitative","title":"log2(PD-L1)"},"color":{"field":"g","type":"nominal","scale":{"domain":["No","Yes"],"range":["#1d57a5","#ee1515"]},"legend":null}}}
     ]},
     {"spacing":3,"hconcat":[
       {"width":70,"height":170,"transform":[{"filter":"datum.s == 'Bd'"}],"layer":[
         {"transform":[{"filter":"isValid(datum.q1)"}],"mark":{"type":"rule","strokeWidth":1.2,"strokeOpacity":0.6},"encoding":{"x":{"field":"xp","type":"quantitative","scale":{"domain":[0.4,2.6],"nice":false,"zero":false},"axis":{"values":[1,2],"labelExpr":"datum.value == 1 ? 'No' : 'Yes'"},"title":null},"y":{"field":"lo","type":"quantitative","scale":{"domain":[-3.706,-0.306],"nice":false,"zero":false},"axis":{"values":[-3,-2,-1],"labelExpr":"'' + datum.value","minExtent":15,"maxExtent":15},"title":"log2(PD-L1)"},"y2":{"field":"hi"},"stroke":{"field":"g","type":"nominal","scale":{"domain":["No","Yes"],"range":["#2f6db8","#ff2a2a"]},"legend":null}}},
         {"transform":[{"filter":"isValid(datum.q1)"}],"mark":{"type":"rect","filled":false,"strokeWidth":1.3,"strokeOpacity":0.5},"encoding":{"x":{"field":"xl","type":"quantitative","title":null},"x2":{"field":"xr"},"y":{"field":"q1","type":"quantitative","title":"log2(PD-L1)"},"y2":{"field":"q3"},"stroke":{"field":"g","type":"nominal","legend":null}}},
         {"transform":[{"filter":"isValid(datum.q1)"}],"mark":{"type":"rule","strokeWidth":1.6},"encoding":{"x":{"field":"xl","type":"quantitative","title":null},"x2":{"field":"xr"},"y":{"field":"md","type":"quantitative","title":"log2(PD-L1)"},"stroke":{"field":"g","type":"nominal","legend":null}}},
         {"transform":[{"filter":"isValid(datum.v)"},{"calculate":"datum.xp + datum.o * 0.116","as":"xj"}],"mark":{"type":"circle","size":9,"opacity":1},"encoding":{"x":{"field":"xj","type":"quantitative","title":null},"y":{"field":"v","type":"quantitative","title":"log2(PD-L1)"},"color":{"field":"g","type":"nominal","scale":{"domain":["No","Yes"],"range":["#1d57a5","#ee1515"]},"legend":null}}}
       ]},
       {"width":70,"height":170,"transform":[{"filter":"datum.s == 'Bp'"}],"layer":[
         {"transform":[{"filter":"isValid(datum.q1)"}],"mark":{"type":"rule","strokeWidth":1.2,"strokeOpacity":0.6},"encoding":{"x":{"field":"xp","type":"quantitative","scale":{"domain":[0.4,2.6],"nice":false,"zero":false},"axis":{"values":[1,2],"labelExpr":"datum.value == 1 ? 'No' : 'Yes'"},"title":null},"y":{"field":"lo","type":"quantitative","scale":{"domain":[-3.706,-0.306],"nice":false,"zero":false},"axis":null},"y2":{"field":"hi"},"stroke":{"field":"g","type":"nominal","scale":{"domain":["No","Yes"],"range":["#2f6db8","#ff2a2a"]},"legend":null}}},
         {"transform":[{"filter":"isValid(datum.q1)"}],"mark":{"type":"rect","filled":false,"strokeWidth":1.3,"strokeOpacity":0.5},"encoding":{"x":{"field":"xl","type":"quantitative","title":null},"x2":{"field":"xr"},"y":{"field":"q1","type":"quantitative","axis":null},"y2":{"field":"q3"},"stroke":{"field":"g","type":"nominal","legend":null}}},
         {"transform":[{"filter":"isValid(datum.q1)"}],"mark":{"type":"rule","strokeWidth":1.6},"encoding":{"x":{"field":"xl","type":"quantitative","title":null},"x2":{"field":"xr"},"y":{"field":"md","type":"quantitative","axis":null},"stroke":{"field":"g","type":"nominal","legend":null}}},
         {"transform":[{"filter":"isValid(datum.v)"},{"calculate":"datum.xp + datum.o * 0.116","as":"xj"}],"mark":{"type":"circle","size":9,"opacity":1},"encoding":{"x":{"field":"xj","type":"quantitative","title":null},"y":{"field":"v","type":"quantitative","axis":null},"color":{"field":"g","type":"nominal","scale":{"domain":["No","Yes"],"range":["#1d57a5","#ee1515"]},"legend":null}}}
       ]}
     ]}
   ]}
  ]}
]},
{"spacing":7,"resolve":{"scale":{"stroke":"independent","color":"independent"}},"hconcat":[
 {"spacing":0,
  "resolve":{"scale":{"stroke":"independent","color":"independent"}},
  "vconcat":[
   {"hconcat":[{"width":327,"height":20,"data":{"values":[{"t":"Inter"}]},"view":{"stroke":"black","strokeWidth":1.4,"cornerRadius":7,"fill":"white"},"mark":{"type":"text","fontSize":13,"fontWeight":"bold","color":"black"},"encoding":{"text":{"field":"t"},"y":{"datum":0.5,"type":"quantitative","scale":{"domain":[0,1]},"axis":{"title":"C","titleAngle":0,"titleX":-40,"titleY":14,"titleAlign":"left","titleBaseline":"alphabetic","titleFontSize":19,"titleFontWeight":"bold","titleColor":"black","labels":false,"ticks":false,"domain":false,"grid":false}}}}]},
   {"spacing":0,"hconcat":[
     {"width":158,"height":16,"data":{"values":[{"t":"dMMR"}]},"view":{"stroke":"black","strokeWidth":1.4,"cornerRadius":7,"fill":"white"},"mark":{"type":"text","fontSize":10,"fontWeight":"bold","color":"black"},"encoding":{"text":{"field":"t"}}},
     {"width":169,"height":16,"data":{"values":[{"t":"pMMR"}]},"view":{"stroke":"black","strokeWidth":1.4,"cornerRadius":7,"fill":"white"},"mark":{"type":"text","fontSize":10,"fontWeight":"bold","color":"black"},"encoding":{"text":{"field":"t"}}}
   ]},
   {"spacing":3,"resolve":{"scale":{"stroke":"independent","color":"independent"}},"hconcat":[
     {"width":156,"height":173,"transform":[{"filter":"datum.s == 'Cd'"}],"layer":[
       {"transform":[{"filter":"isValid(datum.q1)"}],"mark":{"type":"rule","strokeWidth":1.2,"strokeOpacity":0.6},"encoding":{"x":{"field":"xp","type":"quantitative","scale":{"domain":[0.4,2.6],"nice":false,"zero":false},"axis":{"values":[1,2],"labelExpr":"datum.value == 1 ? 'No' : 'Yes'"},"title":null},"y":{"field":"lo","type":"quantitative","scale":{"domain":[0.554,3.473],"nice":false,"zero":false},"axis":{"values":[1,1.5,2,2.5,3],"format":".1f","minExtent":21,"maxExtent":21},"title":"log2(CD34)"},"y2":{"field":"hi"},"stroke":{"field":"g","type":"nominal","scale":{"domain":["No","Yes"],"range":["#2f6db8","#ff2a2a"]},"legend":null}}},
       {"transform":[{"filter":"isValid(datum.q1)"}],"mark":{"type":"rect","filled":false,"strokeWidth":1.3,"strokeOpacity":0.5},"encoding":{"x":{"field":"xl","type":"quantitative","title":null},"x2":{"field":"xr"},"y":{"field":"q1","type":"quantitative","title":"log2(CD34)"},"y2":{"field":"q3"},"stroke":{"field":"g","type":"nominal","legend":null}}},
       {"transform":[{"filter":"isValid(datum.q1)"}],"mark":{"type":"rule","strokeWidth":1.6},"encoding":{"x":{"field":"xl","type":"quantitative","title":null},"x2":{"field":"xr"},"y":{"field":"md","type":"quantitative","title":"log2(CD34)"},"stroke":{"field":"g","type":"nominal","legend":null}}},
       {"transform":[{"filter":"isValid(datum.v)"},{"calculate":"datum.xp + datum.o * 0.052","as":"xj"}],"mark":{"type":"circle","size":9,"opacity":1},"encoding":{"x":{"field":"xj","type":"quantitative","title":null},"y":{"field":"v","type":"quantitative","title":"log2(CD34)"},"color":{"field":"g","type":"nominal","scale":{"domain":["No","Yes"],"range":["#1d57a5","#ee1515"]},"legend":null}}}
     ]},
     {"width":158,"height":173,"transform":[{"filter":"datum.s == 'Cp'"}],"layer":[
       {"transform":[{"filter":"isValid(datum.q1)"}],"mark":{"type":"rule","strokeWidth":1.2,"strokeOpacity":0.6},"encoding":{"x":{"field":"xp","type":"quantitative","scale":{"domain":[0.4,2.6],"nice":false,"zero":false},"axis":{"values":[1,2],"labelExpr":"datum.value == 1 ? 'No' : 'Yes'"},"title":null},"y":{"field":"lo","type":"quantitative","scale":{"domain":[0.554,3.473],"nice":false,"zero":false},"axis":null},"y2":{"field":"hi"},"stroke":{"field":"g","type":"nominal","scale":{"domain":["No","Yes"],"range":["#2f6db8","#ff2a2a"]},"legend":{"orient":"bottom-right","offset":3,"title":null,"labelExpr":"datum.value == 'No' ? 'No Metastasis' : 'Metastasis'","symbolType":"M-1,-0.5L1,-0.5M1,-0.5L1,0.5M1,0.5L-1,0.5M-1,0.5L-1,-0.5M-1,0L1,0M0,-0.5L0,-0.95M0,0.5L0,0.95"}}}},
       {"transform":[{"filter":"isValid(datum.q1)"}],"mark":{"type":"rect","filled":false,"strokeWidth":1.3,"strokeOpacity":0.5},"encoding":{"x":{"field":"xl","type":"quantitative","title":null},"x2":{"field":"xr"},"y":{"field":"q1","type":"quantitative","axis":null},"y2":{"field":"q3"},"stroke":{"field":"g","type":"nominal","legend":{"orient":"bottom-right","offset":3,"title":null,"labelExpr":"datum.value == 'No' ? 'No Metastasis' : 'Metastasis'","symbolType":"M-1,-0.5L1,-0.5M1,-0.5L1,0.5M1,0.5L-1,0.5M-1,0.5L-1,-0.5M-1,0L1,0M0,-0.5L0,-0.95M0,0.5L0,0.95"}}}},
       {"transform":[{"filter":"isValid(datum.q1)"}],"mark":{"type":"rule","strokeWidth":1.6},"encoding":{"x":{"field":"xl","type":"quantitative","title":null},"x2":{"field":"xr"},"y":{"field":"md","type":"quantitative","axis":null},"stroke":{"field":"g","type":"nominal","legend":{"orient":"bottom-right","offset":3,"title":null,"labelExpr":"datum.value == 'No' ? 'No Metastasis' : 'Metastasis'","symbolType":"M-1,-0.5L1,-0.5M1,-0.5L1,0.5M1,0.5L-1,0.5M-1,0.5L-1,-0.5M-1,0L1,0M0,-0.5L0,-0.95M0,0.5L0,0.95"}}}},
       {"transform":[{"filter":"isValid(datum.v)"},{"calculate":"datum.xp + datum.o * 0.0515","as":"xj"}],"mark":{"type":"circle","size":9,"opacity":1},"encoding":{"x":{"field":"xj","type":"quantitative","title":null},"y":{"field":"v","type":"quantitative","axis":null},"color":{"field":"g","type":"nominal","scale":{"domain":["No","Yes"],"range":["#1d57a5","#ee1515"]},"legend":null}}}
     ]}
   ]}
  ]},
 {"spacing":0,
  "vconcat":[
   {"hconcat":[{"width":329,"height":20,"data":{"values":[{"t":"Inter"}]},"view":{"stroke":"black","strokeWidth":1.4,"cornerRadius":7,"fill":"white"},"mark":{"type":"text","fontSize":13,"fontWeight":"bold","color":"black"},"encoding":{"text":{"field":"t"},"y":{"datum":0.5,"type":"quantitative","scale":{"domain":[0,1]},"axis":{"title":"D","titleAngle":0,"titleX":-35,"titleY":14,"titleAlign":"left","titleBaseline":"alphabetic","titleFontSize":19,"titleFontWeight":"bold","titleColor":"black","labels":false,"ticks":false,"domain":false,"grid":false}}}}]},
   {"spacing":0,"hconcat":[
     {"width":160,"height":16,"data":{"values":[{"t":"dMMR"}]},"view":{"stroke":"black","strokeWidth":1.4,"cornerRadius":7,"fill":"white"},"mark":{"type":"text","fontSize":10,"fontWeight":"bold","color":"black"},"encoding":{"text":{"field":"t"}}},
     {"width":169,"height":16,"data":{"values":[{"t":"pMMR"}]},"view":{"stroke":"black","strokeWidth":1.4,"cornerRadius":7,"fill":"white"},"mark":{"type":"text","fontSize":10,"fontWeight":"bold","color":"black"},"encoding":{"text":{"field":"t"}}}
   ]},
   {"spacing":3,"hconcat":[
     {"width":158,"height":173,"transform":[{"filter":"datum.s == 'Dd'"}],"layer":[
       {"transform":[{"filter":"isValid(datum.q1)"}],"mark":{"type":"rule","strokeWidth":1.2,"strokeOpacity":0.6},"encoding":{"x":{"field":"xp","type":"quantitative","scale":{"domain":[0.4,2.6],"nice":false,"zero":false},"axis":{"values":[1,2],"labelExpr":"datum.value == 1 ? 'No' : 'Yes'"},"title":null},"y":{"field":"lo","type":"quantitative","scale":{"domain":[0.068,2.497],"nice":false,"zero":false},"axis":{"values":[0.5,1,1.5,2],"format":".1f","minExtent":21,"maxExtent":21},"title":"log2(CD127)"},"y2":{"field":"hi"},"stroke":{"field":"g","type":"nominal","scale":{"domain":["No","Yes"],"range":["#2f6db8","#ff2a2a"]},"legend":null}}},
       {"transform":[{"filter":"isValid(datum.q1)"}],"mark":{"type":"rect","filled":false,"strokeWidth":1.3,"strokeOpacity":0.5},"encoding":{"x":{"field":"xl","type":"quantitative","title":null},"x2":{"field":"xr"},"y":{"field":"q1","type":"quantitative","title":"log2(CD127)"},"y2":{"field":"q3"},"stroke":{"field":"g","type":"nominal","legend":null}}},
       {"transform":[{"filter":"isValid(datum.q1)"}],"mark":{"type":"rule","strokeWidth":1.6},"encoding":{"x":{"field":"xl","type":"quantitative","title":null},"x2":{"field":"xr"},"y":{"field":"md","type":"quantitative","title":"log2(CD127)"},"stroke":{"field":"g","type":"nominal","legend":null}}},
       {"transform":[{"filter":"isValid(datum.v)"},{"calculate":"datum.xp + datum.o * 0.0515","as":"xj"}],"mark":{"type":"circle","size":9,"opacity":1},"encoding":{"x":{"field":"xj","type":"quantitative","title":null},"y":{"field":"v","type":"quantitative","title":"log2(CD127)"},"color":{"field":"g","type":"nominal","scale":{"domain":["No","Yes"],"range":["#1d57a5","#ee1515"]},"legend":null}}}
     ]},
     {"width":158,"height":173,"transform":[{"filter":"datum.s == 'Dp'"}],"layer":[
       {"transform":[{"filter":"isValid(datum.q1)"}],"mark":{"type":"rule","strokeWidth":1.2,"strokeOpacity":0.6},"encoding":{"x":{"field":"xp","type":"quantitative","scale":{"domain":[0.4,2.6],"nice":false,"zero":false},"axis":{"values":[1,2],"labelExpr":"datum.value == 1 ? 'No' : 'Yes'"},"title":null},"y":{"field":"lo","type":"quantitative","scale":{"domain":[0.068,2.497],"nice":false,"zero":false},"axis":null},"y2":{"field":"hi"},"stroke":{"field":"g","type":"nominal","scale":{"domain":["No","Yes"],"range":["#2f6db8","#ff2a2a"]},"legend":null}}},
       {"transform":[{"filter":"isValid(datum.q1)"}],"mark":{"type":"rect","filled":false,"strokeWidth":1.3,"strokeOpacity":0.5},"encoding":{"x":{"field":"xl","type":"quantitative","title":null},"x2":{"field":"xr"},"y":{"field":"q1","type":"quantitative","axis":null},"y2":{"field":"q3"},"stroke":{"field":"g","type":"nominal","legend":null}}},
       {"transform":[{"filter":"isValid(datum.q1)"}],"mark":{"type":"rule","strokeWidth":1.6},"encoding":{"x":{"field":"xl","type":"quantitative","title":null},"x2":{"field":"xr"},"y":{"field":"md","type":"quantitative","axis":null},"stroke":{"field":"g","type":"nominal","legend":null}}},
       {"transform":[{"filter":"isValid(datum.v)"},{"calculate":"datum.xp + datum.o * 0.0515","as":"xj"}],"mark":{"type":"circle","size":9,"opacity":1},"encoding":{"x":{"field":"xj","type":"quantitative","title":null},"y":{"field":"v","type":"quantitative","axis":null},"color":{"field":"g","type":"nominal","scale":{"domain":["No","Yes"],"range":["#1d57a5","#ee1515"]},"legend":null}}}
     ]}
   ]}
  ]}
]}
]
}
